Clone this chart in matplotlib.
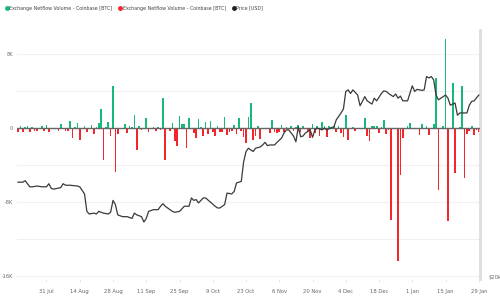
import pandas as pd
import matplotlib
matplotlib.use("Agg")
import matplotlib.pyplot as plt
from matplotlib.lines import Line2D
from matplotlib.ticker import FixedLocator, NullLocator

# Daily netflow (BTC), starting 19 Jul 2023
start = pd.Timestamp("2023-07-19")
netflow = [
    -350, 200, -350, 100, 250, -450, 150, -300, -250, 50,
    200, -250, 350, -400, 50, -100, 50, -300, 450, 50,
    -300, -250, 800, -1100, 100, 550, -1250, 50, 250, -400,
    50, 400, -600, 100, 600, 2050, -3400, 100, 700, -800,
    4600, -4700, -600, 50, -100, 450, -550, 250, 100, 1450,
    -2400, 200, -200, -100, 1100, -450, 50, 100, -250, 100,
    -200, 3250, -3400, 50, -250, 600, -1350, -1900, 1300, 450,
    450, -2150, 1100, 50, -550, -1000, 1000, 100, -800, 700,
    -600, 800, -350, -800, 250, -400, -350, 1200, -750, -450,
    -250, 350, -600, 1100, -300, -950, -1600, 1250, 2700, -1250,
    -800, 200, -1200, 50, -50, 50, -550, 900, -350, -550,
    -400, 350, -450, 100, 50, 200, -300, 150, 350, -450,
    200, 50, -250, -1100, 450, -550, 200, -800, 650, 200,
    -900, 200, 50, 200, -400, 200, -550, -900, 1400, -1250,
    50, 100, -300, 50, -50, 50, 1100, -800, -1350, 200,
    200, 250, -550, 100, 900, -600, -200, -9900, 50, -100,
    -14300, -5050, -1100, 50, 200, 550, -100, 50, 50, -700,
    450, 50, 250, -700, 50, 450, 5400, -6650, 50, 200,
    9700, -10000, 50, 4950, -4800, 50, 100, 4600, -5350, -650,
    -300, 250, -700, -200, -400,
]

# Price (USD), read at these day offsets from the start date
price_day = [
    0, 2, 3, 5, 6, 8, 10, 12, 13, 14, 15, 18, 19, 20, 22, 25, 26, 28, 29, 30,
    32, 33, 34, 36, 38, 39, 40, 41, 42, 44, 46, 47, 48, 49, 50, 52, 53, 54, 55, 57,
    59, 60, 61, 62, 64, 65, 66, 68, 70, 72, 73, 74, 75, 76, 77, 78, 79, 81, 83, 84,
    85, 87, 88, 90, 91, 92, 94, 95, 96, 97, 99, 100, 102, 103, 104, 105, 106, 108, 109, 111,
    112, 113, 114, 115, 116, 117, 118, 119, 120, 121, 123, 124, 125, 126, 128, 129, 130, 132, 133, 134,
    136, 137, 138, 139, 140, 141, 142, 143, 144, 145, 146, 147, 148, 149, 150, 151, 153, 154, 155, 156,
    158, 159, 160, 161, 162, 164, 165, 166, 167, 168, 170, 171, 172, 173, 174, 175, 176, 177, 179, 180,
    181, 182, 183, 184, 185, 186, 188, 189, 190, 191, 192, 194,
]
price_usd = [
    30200, 30200, 30400, 29600, 29600, 29700, 29600, 29600, 30000, 29400,
    29300, 29500, 30000, 29800, 29800, 29700, 29600, 28700, 26600, 26300,
    26400, 26300, 26600, 26400, 26300, 26500, 27900, 27400, 26200, 26000,
    26000, 25900, 25800, 26400, 26200, 26000, 25400, 25800, 26600, 26800,
    26800, 27200, 27500, 27200, 26800, 26600, 26500, 26600, 27200, 27200,
    28200, 27900, 28000, 27600, 27900, 28200, 28200, 27700, 27200, 27000,
    27000, 27400, 28800, 28700, 29000, 30100, 30300, 33000, 34500, 35000,
    34500, 35000, 35200, 35500, 35900, 35400, 35500, 35500, 35900, 36600,
    37400, 37900, 37900, 37400, 36900, 36000, 38400, 36800, 36900, 37400,
    37900, 36700, 37900, 38200, 37900, 38200, 37900, 38300, 38400, 39600,
    40800, 41500, 44800, 45100, 44400, 45100, 44600, 44100, 42100, 42900,
    43800, 43000, 42700, 42400, 43500, 43000, 44400, 44900, 44800, 44400,
    43800, 44300, 43500, 43900, 43000, 43000, 44400, 45900, 44800, 45200,
    45000, 45100, 47800, 47500, 47800, 47100, 44100, 43200, 43800, 44100,
    43500, 42200, 42400, 42600, 40400, 40800, 40800, 40800, 42200, 42900,
    43000, 44100,
]

x_ticks = ["2023-07-31", "2023-08-14", "2023-08-28", "2023-09-11", "2023-09-25",
           "2023-10-09", "2023-10-23", "2023-11-06", "2023-11-20", "2023-12-04",
           "2023-12-18", "2024-01-01", "2024-01-15", "2024-01-29"]
x_labels = ["31 Jul", "14 Aug", "28 Aug", "11 Sep", "25 Sep", "9 Oct", "23 Oct",
            "6 Nov", "20 Nov", "4 Dec", "18 Dec", "1 Jan", "15 Jan", "29 Jan"]
y_ticks = [-16000, -12000, -8000, -4000, 0, 4000, 8000]
y_labels = ["-16K", "", "-8K", "", "0", "", "8K"]

green = "#17b978"
red = "#f2262b"
label_col = "#666666"

df = pd.DataFrame({"date": start + pd.to_timedelta(range(len(netflow)), unit="D"),
                   "flow": netflow})
pos = df[df["flow"] >= 0]
neg = df[df["flow"] < 0]
price_dates = start + pd.to_timedelta(price_day, unit="D")

fig = plt.figure(figsize=(5, 3), dpi=100)
ax = fig.add_axes([0.034, 0.07, 0.926, 0.83])

ax.bar(pos["date"], pos["flow"], width=0.7, color=green, zorder=2)
ax.bar(neg["date"], neg["flow"], width=0.7, color=red, zorder=2)
ax.axhline(0, color="#666666", lw=1.0, zorder=3)

ax.set_ylim(-16300, 10630)
ax.set_xlim(start - pd.Timedelta(hours=10), pd.Timestamp("2024-01-29 12:00"))
ax.set_yticks(y_ticks)
ax.set_yticklabels(y_labels)
ax.yaxis.grid(True, color="#f1f1f1", lw=0.8, zorder=0)
ax.set_xticks(pd.to_datetime(x_ticks))
ax.set_xticklabels(x_labels)
ax.tick_params(axis="x", labelsize=3.8, colors=label_col, length=2, width=0.5,
               color="#dddddd", pad=5)
ax.tick_params(axis="y", labelsize=3.6, colors=label_col, length=0, pad=3)
for s in ["top", "left", "bottom"]:
    ax.spines[s].set_visible(False)
ax.spines["right"].set_color("#dddddd")
ax.spines["right"].set_linewidth(2)

ax2 = ax.twinx()
ax2.plot(price_dates, price_usd, color="#3a3a3a", lw=0.9, zorder=4)
ax2.set_yscale("log")
ax2.set_ylim(19830, 58500)
ax2.yaxis.set_major_locator(FixedLocator([20000]))
ax2.yaxis.set_minor_locator(NullLocator())
ax2.set_yticklabels(["$20k"])
ax2.tick_params(axis="y", labelsize=3.8, colors=label_col, length=0, pad=6)
for s in ["top", "left", "bottom", "right"]:
    ax2.spines[s].set_visible(False)

handles = [
    Line2D([], [], marker="o", ls="", color=green, markersize=2.5),
    Line2D([], [], marker="o", ls="", color=red, markersize=2.5),
    Line2D([], [], marker="o", ls="", color="#222222", markersize=2.5),
]
labels = ["Exchange Netflow Volume - Coinbase [BTC]",
          "Exchange Netflow Volume - Coinbase [BTC]",
          "Price [USD]"]
fig.legend(handles, labels, loc="upper left", bbox_to_anchor=(0.0, 0.995), ncol=3,
           frameon=False, fontsize=3.4, handletextpad=0.1, columnspacing=1.1,
           handlelength=1.0, labelcolor="#444444")

fig.savefig("out.png", dpi=100)
